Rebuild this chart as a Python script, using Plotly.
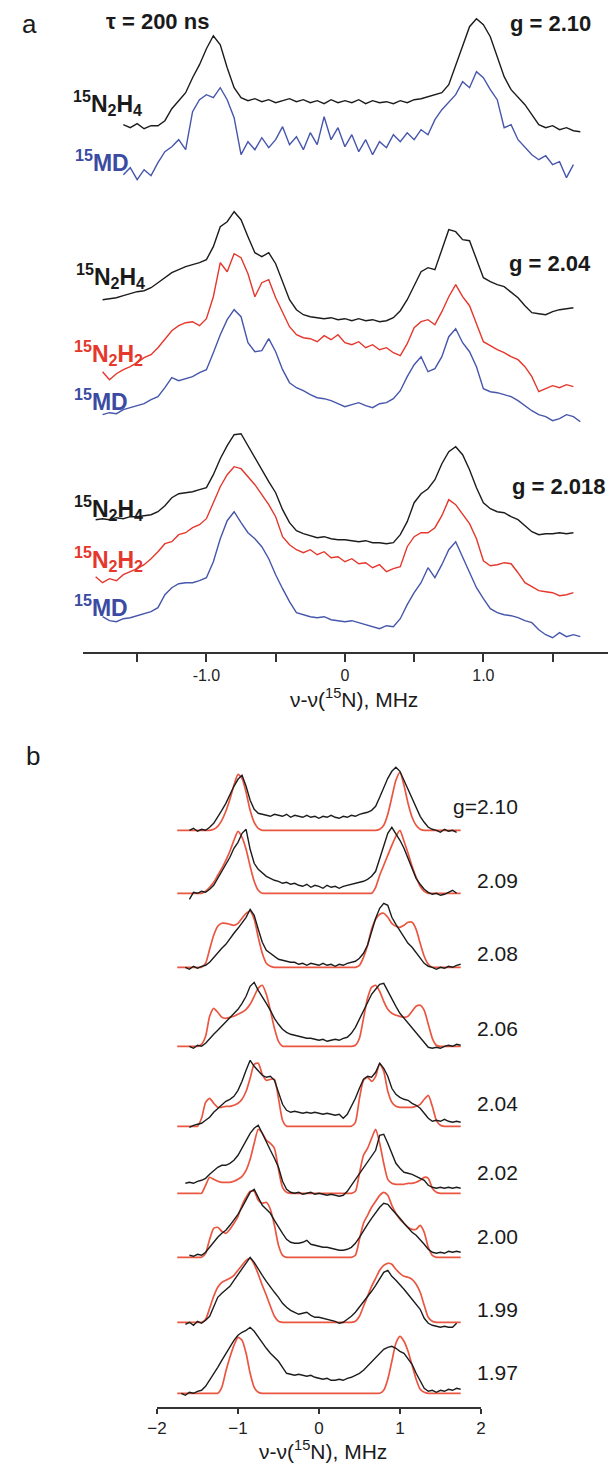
import plotly.graph_objects as go

W, H = 614, 1466
STEP = 0.05

# ---------------- panel a : tau = 200 ns, three g-values ----------------
# each trace: start frequency (MHz) + intensities (arb. units) on a 0.05 MHz grid
a210_n2h4_start = -1.60
a210_n2h4 = [2, -1, 3, -2, 1, 1, 6, 18, 26, 34,
             49, 62, 78, 91, 82, 59, 39, 29, 26, 28,
             25, 27, 24, 26, 28, 25, 27, 24, 26, 23,
             27, 24, 26, 24, 27, 23, 26, 24, 25, 23,
             26, 24, 27, 28, 30, 32, 34, 42, 61, 82,
             100, 108, 102, 90, 70, 50, 37, 29, 22, 12,
             2, -1, 1, -3, -1, -4, -5]
a210_md_start = -1.60
a210_md = [-2, 5, -7, 3, -3, 10, 21, 26, 33, 23,
           61, 73, 78, 75, 85, 73, 55, 18, 31, 23,
           35, 25, 33, 46, 28, 36, 23, 40, 28, 56,
           33, 45, 26, 38, 21, 33, 18, 31, 25, 38,
           31, 40, 33, 43, 38, 53, 63, 70, 78, 91,
           85, 101, 95, 83, 73, 45, 48, 33, 25, 18,
           13, 17, 8, 11, -5, 8]

a204_n2h4_start = -1.75
a204_n2h4 = [0, 1, 2, 4, 6, 8, 9, 12, 17, 22,
             27, 30, 33, 35, 37, 40, 53, 73, 78, 88,
             80, 63, 47, 43, 47, 36, 18, 0, -10, -15,
             -17, -18, -19, -18, -20, -19, -21, -19, -21, -20,
             -22, -21, -18, -11, 0, 14, 28, 32, 30, 50,
             70, 68, 60, 59, 41, 22, 18, 15, 13, 7,
             2, -6, -13, -14, -15, -12, -10, -9, -8]
a204_n2h2_start = -1.75
a204_n2h2 = [0, -8, -2, 2, 5, 9, 14, 17, 24, 32,
             41, 46, 49, 50, 46, 53, 75, 109, 100, 118,
             114, 98, 75, 89, 92, 74, 60, 45, 37, 34,
             33, 30, 36, 32, 37, 29, 27, 30, 24, 27,
             22, 24, 19, 16, 28, 44, 50, 52, 47, 60,
             75, 87, 75, 66, 48, 30, 26, 22, 19, 15,
             12, 5, -5, -20, -17, -14, -16, -13, -15]
a204_md_start = -1.75
a204_md = [0, 2, 1, 5, 7, 9, 11, 15, 18, 27,
           37, 34, 36, 38, 42, 45, 62, 80, 95, 105,
           98, 72, 63, 64, 76, 63, 45, 32, 27, 24,
           20, 17, 16, 14, 11, 8, 10, 12, 9, 7,
           11, 12, 16, 24, 38, 50, 58, 43, 46, 58,
           78, 86, 72, 63, 48, 26, 23, 22, 20, 18,
           14, 9, 4, 0, -2, -6, -4, 0, -2, -7]

a2018_n2h4_start = -1.80
a2018_n2h4 = [0, 1, 0, 2, 1, 3, 3, 4, 5, 8,
              14, 22, 26, 27, 28, 30, 32, 45, 61, 74,
              85, 86, 74, 62, 49, 38, 27, 10, -3, -11,
              -14, -16, -18, -17, -19, -20, -20, -21, -22, -21,
              -23, -23, -24, -23, -15, -2, 17, 26, 31, 40,
              56, 68, 73, 65, 50, 32, 17, 11, 8, 7,
              3, 0, -6, -12, -15, -14, -14, -13, -14, -13]
a2018_n2h2_start = -1.80
a2018_n2h2 = [0, -6, -2, -4, 2, 5, 8, 12, 18, 25,
              33, 35, 42, 44, 49, 52, 58, 74, 90, 102,
              110, 108, 100, 92, 82, 72, 60, 40, 32, 27,
              24, 27, 22, 25, 19, 20, 15, 18, 13, 14,
              9, 12, 5, 8, 10, 30, 40, 44, 44, 49,
              61, 77, 72, 62, 53, 38, 16, 11, 12, 14,
              13, 4, -6, -10, -14, -15, -16, -19, -18, -16]
a2018_md_start = -1.75
a2018_md = [8, 4, 3, 6, 7, 9, 11, 13, 17, 30,
            37, 41, 42, 42, 44, 47, 63, 86, 104, 113,
            102, 92, 86, 78, 66, 50, 36, 23, 12, 10,
            8, 7, 8, 5, 4, 3, 4, 2, 0, -2,
            -4, -1, -2, 6, 20, 32, 42, 57, 47, 60,
            75, 83, 68, 52, 37, 26, 16, 12, 10, 9,
            7, 4, 2, -5, -10, -13, -8, -12, -10, -12]

# stacking offsets of panel a (same units as intensities)
a_offsets = [525, 479, 352, 280, 237, 132, 75, 27]

# ---------------- panel b : experiment (black) vs simulation (red) ----------------
b_labels = ["g=2.10", "2.09", "2.08", "2.06", "2.04", "2.02", "2.00", "1.99", "1.97"]
b_offsets = [577, 514, 440, 361, 281, 214, 150, 85, 14]

b_exp_starts = [-1.60, -1.60, -1.65, -1.60, -1.60, -1.65, -1.60, -1.65, -1.70]
b_exp_210 = [0, 2, -1, 1, 0, 3, 7, 13, 20, 27,
             36, 44, 51, 55, 44, 30, 21, 17, 16, 15,
             14, 16, 15, 14, 16, 13, 15, 14, 13, 15,
             13, 14, 12, 14, 13, 15, 13, 12, 14, 13,
             15, 14, 16, 17, 18, 20, 24, 33, 42, 52,
             59, 63, 59, 50, 40, 31, 22, 14, 8, 3,
             1, 0, -2, 1, -1, 0, -2]
b_exp_209 = [-6, 1, 0, 2, 1, 4, 8, 15, 21, 28,
             36, 45, 51, 60, 64, 44, 30, 24, 20, 17,
             15, 13, 12, 10, 11, 9, 10, 8, 7, 9,
             6, 8, 7, 5, 8, 6, 7, 5, 7, 8,
             9, 10, 11, 12, 14, 17, 22, 34, 47, 60,
             66, 60, 53, 45, 35, 24, 15, 9, 4, 1,
             -1, 0, -2, -1, 1, 3, 0]
b_exp_208 = [0, -2, 1, -1, 1, 2, 5, 10, 15, 19,
             23, 29, 34, 39, 44, 50, 58, 52, 38, 25,
             17, 14, 11, 8, 7, 6, 5, 5, 3, 4,
             2, 4, 3, 2, 4, 2, 3, 1, 3, 2,
             4, 5, 6, 9, 14, 22, 36, 49, 59, 64,
             62, 50, 43, 37, 30, 24, 20, 15, 9, 4,
             1, 0, -2, 0, -1, 1, 0, 2, 3]
b_exp_206 = [0, -2, 1, 0, 3, 8, 12, 16, 20, 24,
             28, 32, 37, 43, 50, 60, 64, 56, 50, 43,
             36, 28, 22, 17, 14, 12, 11, 10, 9, 8,
             8, 7, 6, 7, 5, 6, 7, 6, 8, 9,
             13, 19, 27, 36, 44, 52, 57, 62, 63, 55,
             48, 40, 33, 28, 23, 19, 14, 9, 3, -1,
             -2, -1, -2, 0, 1, 0, 2, 1]
b_exp_204 = [-1, 1, 2, 3, 6, 9, 14, 18, 22, 25,
             27, 30, 36, 45, 56, 66, 60, 55, 51, 49,
             50, 46, 35, 22, 16, 14, 15, 14, 13, 14,
             13, 14, 13, 12, 13, 12, 11, 12, 8, 12,
             20, 28, 38, 47, 50, 49, 54, 63, 58, 50,
             38, 32, 29, 27, 26, 23, 21, 18, 13, 8,
             5, 6, 5, 7, 5, 4, 5, 4]
b_exp_202 = [10, 11, 10, 12, 13, 15, 19, 23, 26, 28,
             28, 30, 33, 38, 45, 53, 60, 65, 68, 60,
             51, 43, 35, 26, 12, 4, 1, 0, 1, -1,
             0, 1, -1, 0, -1, -2, -1, -2, -3, -2,
             2, 8, 14, 20, 26, 32, 37, 43, 58, 59,
             50, 40, 30, 25, 21, 20, 19, 17, 15, 13,
             8, 6, 5, 6, 5, 6, 5, 6, 5]
b_exp_200 = [2, 1, 3, 2, 5, 10, 16, 20, 24, 27,
             32, 37, 43, 50, 57, 65, 68, 60, 52, 48,
             44, 37, 30, 24, 18, 15, 14, 14, 15, 17,
             13, 12, 11, 10, 10, 9, 8, 7, 7, 8,
             10, 14, 20, 27, 33, 39, 45, 50, 54, 53,
             48, 44, 39, 34, 29, 25, 22, 18, 13, 8,
             5, 4, 5, 4, 6, 5, 6, 5]
b_exp_199 = [-2, 0, -3, 1, -1, 2, 6, 15, 25, 29,
             33, 36, 42, 48, 53, 59, 65, 60, 53, 47,
             41, 35, 30, 25, 19, 15, 12, 10, 8, 9,
             10, 7, 5, 5, 4, 3, 2, 1, -1, 0,
             3, 6, 10, 15, 20, 25, 31, 37, 44, 50,
             52, 46, 42, 38, 33, 28, 23, 18, 13, 4,
             -1, -3, -4, -5, -4, -5, -5, -1]
b_exp_197 = [0, -2, 1, 0, 2, 3, 7, 13, 19, 26,
             33, 40, 47, 53, 58, 61, 63, 66, 62, 56,
             51, 45, 40, 36, 32, 26, 20, 19, 18, 19,
             18, 17, 18, 16, 15, 14, 15, 13, 13, 14,
             13, 15, 16, 18, 20, 23, 27, 31, 35, 40,
             44, 46, 47, 45, 42, 40, 35, 29, 20, 12,
             5, 2, 3, 1, 3, 2, 4, 3, 5, 4]

b_sim_start = -1.75
b_sim_210 = [0, 0, 0, 0, 0, 0, 0, 0, 0,
             1, 4, 10, 19, 31, 45, 56, 52, 38, 20, 8, 2,
             0, 0, 0, 0, 0, 0, 0, 0, 0, 0, 0, 0, 0, 0, 0, 0, 0, 0, 0, 0, 0, 0, 0, 0, 0, 0, 0, 0, 0,
             1, 5, 16, 33, 50, 58, 45, 27, 13, 5, 1,
             0, 0, 0, 0, 0, 0, 0, 0, 0, 0]
b_sim_209 = [0, 0, 0, 0, 0, 0, 0,
             2, 6, 11, 18, 25, 33, 42, 53, 62, 56, 44, 27, 12, 3,
             0, 0, 0, 0, 0, 0, 0, 0, 0, 0, 0, 0, 0, 0, 0, 0, 0, 0, 0, 0, 0, 0, 0, 0, 0, 0, 0, 0,
             6, 18, 28, 38, 48, 57, 63, 52, 40, 27, 16, 7, 2,
             0, 0, 0, 0, 0, 0, 0, 0, 0]
b_sim_208 = [0, 0, 0, 0, 0, 0, 0,
             4, 18, 32, 41, 44, 44, 43, 42, 44, 49, 54, 56, 48, 30, 14, 4, 1,
             0, 0, 0, 0, 0, 0, 0, 0, 0, 0, 0, 0, 0, 0, 0, 0, 0, 0, 0, 0, 0,
             2, 10, 22, 38, 48, 53, 54, 50, 44, 41, 40, 42, 45, 45, 38, 24, 11, 3,
             0, 0, 0, 0, 0, 0, 0, 0]
b_sim_206 = [0, 0, 0, 0, 0, 0,
             2, 10, 30, 38, 34, 29, 28, 29, 30, 32, 34, 37, 42, 50, 58, 61, 52, 36, 18, 5, 0,
             0, 0, 0, 0, 0, 0, 0, 0, 0, 0, 0, 0, 0, 0, 0, 0, 0,
             1, 8, 28, 48, 59, 61, 55, 45, 37, 33, 31, 30, 29, 30, 35, 40, 41, 36, 22, 8, 1,
             0, 0, 0, 0, 0, 0]
b_sim_204 = [0, 0, 0, 0, 0, 0,
             8, 24, 28, 23, 19, 19, 20, 20, 21, 23, 27, 35, 48, 62, 63, 52, 46, 47, 47, 28, 6,
             0, 0, 0, 0, 0, 0, 0, 0, 0, 0, 0, 0, 0, 0, 0, 0, 0,
             4, 28, 46, 49, 45, 50, 63, 55, 35, 24, 20, 19, 19, 19, 19, 20, 22, 27, 31, 20, 6, 1,
             0, 0, 0, 0, 0]
b_sim_202 = [0, 0, 0, 0, 0, 0, 0,
             8, 16, 14, 12, 11, 11, 11, 12, 14, 17, 23, 34, 50, 64, 60, 53, 50, 45, 24, 6, 1,
             0, 0, 0, 0, 0, 0, 0, 0, 0, 0, 0, 0, 0, 0, 0, 0,
             2, 20, 38, 45, 55, 64, 50, 30, 14, 10, 9, 9, 9, 10, 10, 11, 13, 16, 15, 5, 1,
             0, 0, 0, 0, 0, 0]
b_sim_200 = [0, 0, 0, 0, 0, 0, 0,
             4, 18, 29, 30, 26, 24, 28, 34, 41, 52, 60, 66, 66, 57, 54, 55, 48, 32, 12, 2,
             0, 0, 0, 0, 0, 0, 0, 0, 0, 0, 0, 0, 0, 0, 0, 0, 0,
             2, 18, 34, 42, 50, 56, 62, 65, 62, 52, 44, 38, 34, 30, 28, 28, 32, 25, 10, 2,
             0, 0, 0, 0, 0, 0, 0]
b_sim_199 = [0, 0, 0, 0, 0, 0, 0,
             3, 14, 26, 35, 40, 42, 44, 47, 52, 57, 62, 64, 58, 48, 37, 27, 16, 6, 1,
             0, 0, 0, 0, 0, 0, 0, 0, 0, 0, 0, 0, 0, 0, 0, 0, 0, 0,
             1, 6, 16, 26, 36, 44, 52, 57, 59, 58, 53, 49, 46, 45, 43, 38, 30, 17, 5, 1,
             0, 0, 0, 0, 0, 0, 0]
b_sim_197 = [0, 0, 0, 0, 0, 0, 0, 0, 0, 0, 0,
             6, 22, 36, 48, 56, 53, 40, 20, 6, 1,
             0, 0, 0, 0, 0, 0, 0, 0, 0, 0, 0, 0, 0, 0, 0, 0, 0, 0, 0, 0, 0, 0, 0, 0, 0, 0, 0, 0, 0, 0,
             3, 14, 32, 50, 57, 52, 42, 28, 14, 4, 1,
             0, 0, 0, 0, 0, 0, 0, 0, 0]

b_exp = [b_exp_210, b_exp_209, b_exp_208, b_exp_206, b_exp_204, b_exp_202, b_exp_200, b_exp_199, b_exp_197]
b_sim = [b_sim_210, b_sim_209, b_sim_208, b_sim_206, b_sim_204, b_sim_202, b_sim_200, b_sim_199, b_sim_197]

# ---------------- styling ----------------
BLACK = "#1c1c1c"
BLUE = "#4656ab"
RED_A = "#e5372c"
RED_B = "#ea5640"
FONT = "Liberation Sans, Arial, Helvetica, sans-serif"


def grid(start, n):
    return [round(start + STEP * i, 3) for i in range(n)]


fig = go.Figure()


def add(start, vals, off, color, width, xa, ya, shape="linear"):
    fig.add_trace(go.Scatter(
        x=grid(start, len(vals)), y=[off + v for v in vals], mode="lines",
        line=dict(color=color, width=width, shape=shape, smoothing=0.6 if shape == "spline" else None),
        xaxis=xa, yaxis=ya, hoverinfo="skip", showlegend=False))


panel_a = [
    (a210_n2h4_start, a210_n2h4, BLACK), (a210_md_start, a210_md, BLUE),
    (a204_n2h4_start, a204_n2h4, BLACK), (a204_n2h2_start, a204_n2h2, RED_A), (a204_md_start, a204_md, BLUE),
    (a2018_n2h4_start, a2018_n2h4, BLACK), (a2018_n2h2_start, a2018_n2h2, RED_A), (a2018_md_start, a2018_md, BLUE),
]
for (st, vals, col), off in zip(panel_a, a_offsets):
    add(st, vals, off, col, 1.4, "x", "y")

for sim, exp, st, off in zip(b_sim, b_exp, b_exp_starts, b_offsets):
    add(b_sim_start, sim, off, RED_B, 1.7, "x2", "y2", shape="spline")
    add(st, exp, off, BLACK, 1.4, "x2", "y2")

# pixel geometry of the two panels
A_AXIS_Y = 651.7
B_AXIS_Y = 1407.3
B_TOP_Y = 740.0

fig.update_layout(
    width=W, height=H, margin=dict(l=0, r=0, t=0, b=0),
    paper_bgcolor="white", plot_bgcolor="white",
    font=dict(family=FONT, color="#222"),
    xaxis=dict(domain=[75 / W, 613 / W], range=[-1.89, 1.90], anchor="y",
               showgrid=False, zeroline=False, showline=True, linecolor="#333", linewidth=2,
               ticks="outside", ticklen=8, tickwidth=2, tickcolor="#333",
               tickvals=[-1.5, -1.0, -0.5, 0, 0.5, 1.0, 1.5],
               ticktext=["", "-1.0", "", "0", "", "1.0", ""],
               tickfont=dict(size=16, family=FONT, color="#222")),
    yaxis=dict(domain=[1 - A_AXIS_Y / H, 1], range=[0, A_AXIS_Y], visible=False, anchor="x"),
    xaxis2=dict(domain=[150.7 / W, 482.7 / W], range=[-2, 2], anchor="y2",
                showgrid=False, zeroline=False, showline=True, linecolor="#333", linewidth=1.5,
                ticks="outside", ticklen=5, tickwidth=1.5, tickcolor="#333",
                tickvals=[-2, -1, 0, 1, 2], ticktext=["\u22122", "\u22121", "0", "1", "2"],
                tickfont=dict(size=17, family=FONT, color="#222")),
    yaxis2=dict(domain=[1 - B_AXIS_Y / H, 1 - B_TOP_Y / H], range=[0, B_AXIS_Y - B_TOP_Y],
                visible=False, anchor="x2"),
)


def note(text, px, py, anchor="left", size=22, color="#1a1a1a", bold=False):
    if bold:
        text = "<b>" + text + "</b>"
    fig.add_annotation(text=text, x=px / W, y=1 - py / H, xref="paper", yref="paper",
                       xanchor=anchor, yanchor="middle", showarrow=False,
                       font=dict(size=size, color=color, family=FONT))


N2H4 = "<sup>15</sup>N<sub>2</sub>H<sub>4</sub>"
N2H2 = "<sup>15</sup>N<sub>2</sub>H<sub>2</sub>"
MD = "<sup>15</sup>MD"
MD_BLUE = "#3b4aa3"

note("a", 10, 24, size=26)
note("\u03c4 = 200 ns", 96, 21, bold=True, size=22)
note("g = 2.10", 598, 24, anchor="right", bold=True, size=22)
note("g = 2.04", 598, 263, anchor="right", bold=True, size=22)
note("g = 2.018", 613, 487, anchor="right", bold=True, size=22)
chem_labels = [(N2H4, 63, 103, "#1a1a1a"), (MD, 65, 161, MD_BLUE),
               (N2H4, 66, 276, "#1a1a1a"), (N2H2, 64, 353, RED_A), (MD, 64, 400, MD_BLUE),
               (N2H4, 64, 508, "#1a1a1a"), (N2H2, 64, 559, RED_A), (MD, 64, 606, MD_BLUE)]
for txt, lx, ly, col in chem_labels:
    note(txt, lx, ly, bold=True, color=col, size=23)
note("\u03bd-\u03bd(<sup>15</sup>N), MHz", 353, 698, anchor="center", size=21)

note("b", 14, 756, size=26)
b_label_y = [806, 880, 953, 1028, 1103, 1172, 1236, 1309, 1372]
for lab, ly in zip(b_labels, b_label_y):
    note(lab, 523, ly, anchor="right", size=21)
note("\u03bd-\u03bd(<sup>15</sup>N), MHz", 321, 1450, anchor="center", size=21)

fig.write_html("out.html")
